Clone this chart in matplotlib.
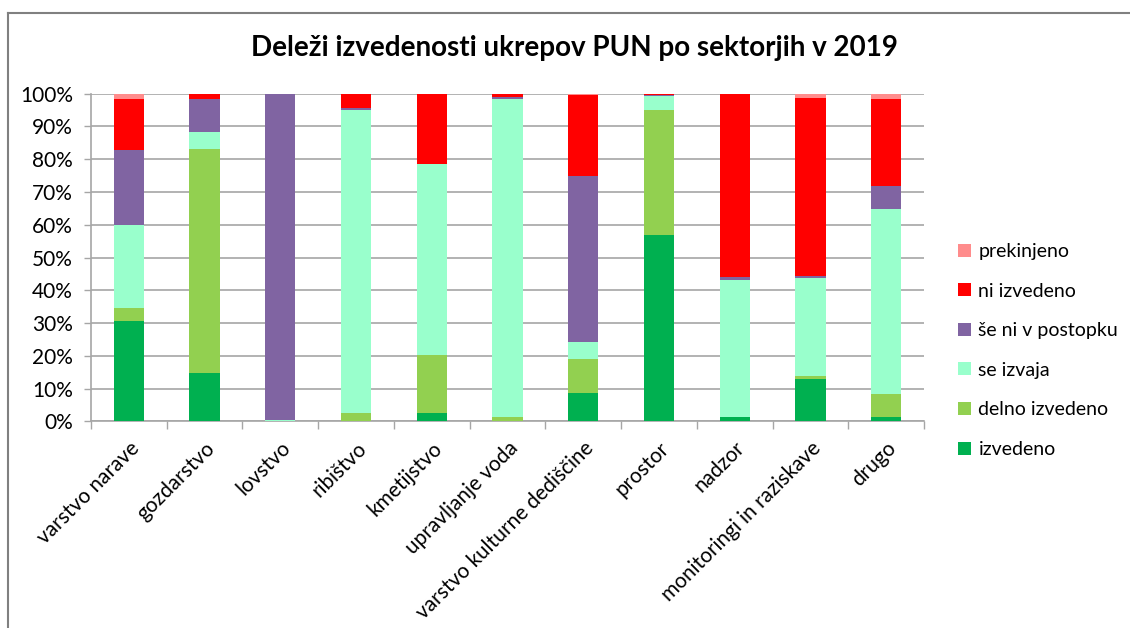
import matplotlib
matplotlib.use("Agg")
import matplotlib.pyplot as plt
from matplotlib.lines import Line2D
from matplotlib.patches import Patch
import numpy as np

plt.rcParams['font.family'] = ['Lato', 'DejaVu Sans']

categories = ["varstvo narave", "gozdarstvo", "lovstvo", "ribištvo", "kmetijstvo",
              "upravljanje voda", "varstvo kulturne dediščine", "prostor", "nadzor",
              "monitoringi in raziskave", "drugo"]

izvedeno = [30.7, 14.8, 0.0, 0.0, 2.4, 0.0, 8.7, 56.9, 1.3, 12.9, 1.3]
delno_izvedeno = [3.8, 68.2, 0.0, 2.6, 17.7, 1.3, 10.2, 38.2, 0.0, 1.0, 7.1]
se_izvaja = [25.4, 5.4, 0.4, 92.4, 58.3, 97.2, 5.4, 4.1, 41.8, 29.8, 56.4]
se_ni_v_postopku = [23.0, 9.9, 99.6, 0.6, 0.0, 0.5, 50.7, 0.4, 0.9, 0.7, 7.0]
ni_izvedeno = [15.4, 1.8, 0.0, 4.4, 21.4, 1.0, 24.5, 0.4, 56.0, 54.4, 26.7]
prekinjeno = [1.7, 0.0, 0.0, 0.0, 0.2, 0.0, 0.5, 0.0, 0.0, 1.1, 1.5]

series_names = ["izvedeno", "delno izvedeno", "se izvaja", "še ni v postopku",
                "ni izvedeno", "prekinjeno"]
series_values = [izvedeno, delno_izvedeno, se_izvaja, se_ni_v_postopku,
                 ni_izvedeno, prekinjeno]
colors = ["#00B050", "#92D050", "#99FFCC", "#8064A2", "#FF0000", "#FF8C8C"]

yticks = [0, 10, 20, 30, 40, 50, 60, 70, 80, 90, 100]
title = "Deleži izvedenosti ukrepov PUN po sektorjih v 2019"

fig = plt.figure(figsize=(11.30, 6.28), dpi=100)
ax = fig.add_axes([91/1130, 1-421.3/628, (924-91)/1130, (421.3-93.7)/628])

x = np.arange(len(categories))
bottom = np.zeros(len(categories))
handles = []
for name, vals, c in zip(series_names, series_values, colors):
    v = np.array(vals, dtype=float)
    ax.bar(x, v, 0.4, bottom=bottom, color=c, label=name, zorder=3)
    bottom += v
    handles.append(Patch(facecolor=c, label=name))

ax.set_xlim(-0.5, len(categories) - 0.5)
ax.set_ylim(0, 100)
ax.set_yticks(yticks)
ax.set_yticklabels([f"{t}%" for t in yticks], fontsize=15)
ax.yaxis.grid(True, color="#A6A6A6", linewidth=1.2, zorder=0)
ax.tick_params(axis='y', length=5, color="#A6A6A6", width=1, pad=8)

ax.set_xticks(x)
ax.set_xticklabels(categories, rotation=45, ha='right', rotation_mode='anchor', fontsize=15)
ax.tick_params(axis='x', which='major', length=0, pad=12)
ax.set_xticks(np.arange(-0.5, len(categories), 1.0), minor=True)
ax.tick_params(axis='x', which='minor', length=6, color="#A6A6A6", width=1)

for s in ['top', 'right']:
    ax.spines[s].set_visible(False)
for s in ['left', 'bottom']:
    ax.spines[s].set_color("#A6A6A6")
    ax.spines[s].set_linewidth(1.2)

fig.text(574/1130, 1-48/628, title, ha='center', va='center', fontsize=20, fontweight='bold')

leg = fig.legend(handles[::-1], [h.get_label() for h in handles[::-1]],
                 loc='center left', bbox_to_anchor=(958/1130, 1-350.5/628),
                 frameon=False, fontsize=14, handlelength=0.65, handleheight=0.65,
                 handletextpad=0.4, labelspacing=1.16, borderpad=0, borderaxespad=0)

# chart frame
fig.add_artist(Line2D([8/1130, 8/1130], [0, 1-13/628], transform=fig.transFigure,
                      color="#808080", linewidth=1.5))
fig.add_artist(Line2D([8/1130, 1], [1-13/628, 1-13/628], transform=fig.transFigure,
                      color="#808080", linewidth=1.5))

fig.savefig("out.png", dpi=100)
